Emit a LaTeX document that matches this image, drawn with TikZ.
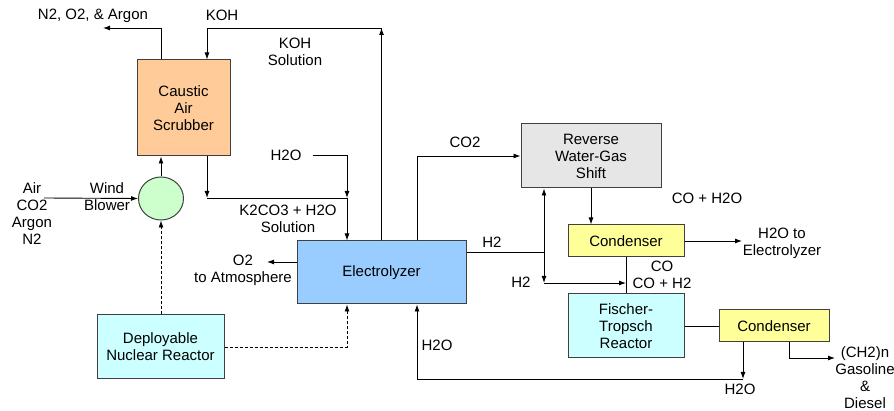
\documentclass[tikz,border=0pt]{standalone}
\usepackage{fontspec}
\setmainfont{Liberation Sans}
\usetikzlibrary{arrows.meta,positioning,shapes.geometric}

\definecolor{boxline}{HTML}{404040}
\definecolor{peach}{HTML}{FFCC99}
\definecolor{mint}{HTML}{CCFFCC}
\definecolor{skyblue}{HTML}{99CCFF}
\definecolor{paleaqua}{HTML}{CCFFFF}
\definecolor{shiftgray}{HTML}{E6E6E6}
\definecolor{paleyellow}{HTML}{FFFF99}

\begin{document}
\begin{tikzpicture}[
      x=1pt,
      y=-1pt,
      font=\fontsize{15}{17}\selectfont,
      box/.style={draw=boxline, line width=1pt, align=center, inner sep=2pt},
      lbl/.style={align=center, inner sep=0pt},
      arrow/.style={-{Latex[length=7pt,width=5pt]}, line width=0.9pt},
      link/.style={line width=0.9pt},
      dasharrow/.style={arrow, dash pattern=on 3pt off 2pt}
  ]
  \useasboundingbox (0,0) rectangle (894,411);
  % Pixel grid of the sheet, y grows downwards

  % --- Air capture ---
  \node[box, fill=peach, minimum width=93pt, minimum height=96pt] (scrubber) at (183.5,108) {Caustic\\Air\\Scrubber};
  \node[draw=boxline, line width=1pt, ellipse, fill=mint, minimum width=45pt, minimum height=43pt, inner sep=0pt] (blower) at (161,198.5) {};
  \node[box, fill=paleaqua, minimum width=127pt, minimum height=64pt] (nuclear) at (160.5,347) {Deployable\\Nuclear Reactor};

  % --- Electrolysis ---
  \node[box, fill=skyblue, minimum width=169pt, minimum height=63pt] (electro) at (381.5,272.5) {Electrolyzer};

  % --- Fuel synthesis ---
  \node[box, fill=shiftgray, minimum width=140pt, minimum height=64pt] (rwgs) at (591,156) {Reverse\\Water-Gas\\Shift};
  \node[box, fill=paleyellow, minimum width=116pt, minimum height=32pt] (cond1) at (626,241) {Condenser};
  \node[box, fill=paleaqua, minimum width=116pt, minimum height=64pt] (ft) at (626,326) {Fischer-\\Tropsch\\Reactor};
  \node[box, fill=paleyellow, minimum width=110pt, minimum height=32pt] (cond2) at (774,326) {Condenser};

  % --- Stream labels ---
  \node[lbl] (lblvent)   at (93,16)    {N2, O2, \& Argon};
  \node[lbl] (lblkoh)    at (222,15)   {KOH};
  \node[lbl] (lblkohsol) at (295,52)   {KOH\\Solution};
  \node[lbl] (lblh2oin)  at (286,155)  {H2O};
  \node[lbl] (lblwind)   at (107,197)  {Wind\\Blower};
  \node[lbl] (lblair)    at (32,213.5) {Air\\CO2\\Argon\\N2};
  \node[lbl] (lblk2co3)  at (288,219)  {K2CO3 + H2O\\Solution};
  \node[lbl] (lblo2)     at (243,270.5){O2\\to Atmosphere};
  \node[lbl] (lblco2)    at (465,142)  {CO2};
  \node[lbl] (lblcoh2o)  at (707,198)  {CO + H2O};
  \node[lbl] (lblh2oel)  at (782,243)  {H2O to\\Electrolyzer};
  \node[lbl] (lblh2a)    at (492,242)  {H2};
  \node[lbl] (lblh2b)    at (521,282)  {H2};
  \node[lbl] (lblsyngas) at (662,275)  {CO\\CO + H2};
  \node[lbl] (lblh2oret) at (437,345)  {H2O};
  \node[lbl] (lblh2obot) at (740,389)  {H2O};
  \node[lbl] (lblfuel)   at (865,378)  {(CH2)n\\Gasoline\\\&\\Diesel};

  % --- Junctions and free ends ---
  \coordinate (ventout) at (103,28);
  \coordinate (kohtop)  at (381.5,28);
  \coordinate (mixL)    at (207,198);
  \coordinate (mixR)    at (347,198);
  \coordinate (airin)   at (44,198);
  \coordinate (o2out)   at (267,262);
  \coordinate (h2split) at (544,252);
  \coordinate (h2low)   at (544,283);
  \coordinate (h2oel)   at (742,241);
  \coordinate (h2obot)  at (743,379);
  \coordinate (fuelout) at (835,358);

  % --- Arrows ---
  \draw[arrow] (blower |- scrubber.north) |- (ventout);
  \draw[arrow] (electro.north) -- (kohtop);
  \draw[arrow] (kohtop) -| (mixL |- scrubber.north);
  \draw[arrow] (mixL |- scrubber.south) -- (mixL);
  \draw[link] (mixL) -- (mixR);
  \draw[arrow] ([xshift=11pt]lblh2oin.east) -| (mixR);
  \draw[arrow] (mixR) -- (mixR |- electro.north);

  \draw[arrow] (airin) -- (blower.west);
  \draw[arrow] (blower.north) -- (blower.north |- scrubber.south);

  % Power from the reactor
  \draw[dasharrow] (nuclear.north -| blower) -- (blower.south);
  \draw[dasharrow] (nuclear.east) -| (mixR |- electro.south);

  \draw[arrow] (electro.west |- o2out) -- (o2out);
  \draw[arrow] ([xshift=35.5pt]electro.north) |- (rwgs.west);
  \draw[arrow] (rwgs.south) -- (rwgs.south |- cond1.north);
  \draw[arrow] (cond1.east) -- (h2oel);

  \draw[link] (electro.east |- h2split) -- (h2split);
  \draw[arrow] (h2split) -- (h2split |- rwgs.south);
  \draw[arrow] (h2split) -- (h2low);
  \draw[arrow] (h2low) -- (h2low -| cond1.south);

  \draw[link] (cond1.south) -- (ft.north);
  \draw[link] (ft.east) -- (cond2.west);

  % Water back to the electrolyzer
  \draw[arrow] (h2obot |- cond2.south) -- (h2obot);
  \draw[arrow] (h2obot) -| ([xshift=35.5pt]electro.south);
  \draw[arrow] ([xshift=15pt]cond2.south) |- (fuelout);

\end{tikzpicture}
\end{document}
